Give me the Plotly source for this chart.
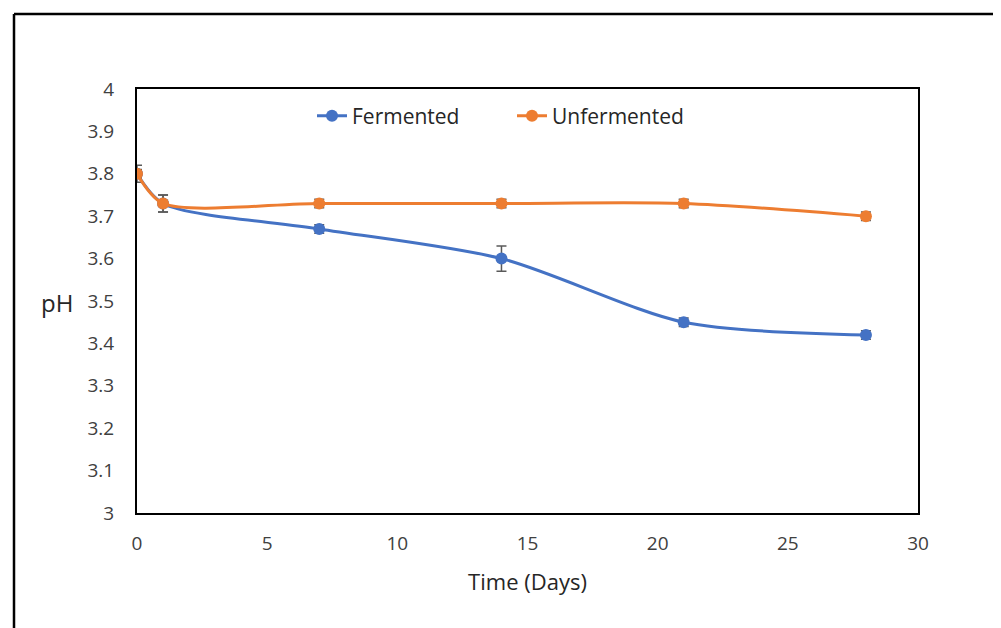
import plotly.graph_objects as go

days = [0, 1, 7, 14, 21, 28]
fermented = [3.80, 3.73, 3.67, 3.60, 3.45, 3.42]
fermented_err = [0.02, 0.02, 0.01, 0.03, 0.01, 0.01]
unfermented = [3.80, 3.73, 3.73, 3.73, 3.73, 3.70]
unfermented_err = [0.01, 0.02, 0.01, 0.01, 0.01, 0.01]

FONT = "Open Sans"
OFF = 8  # page body margin

fig = go.Figure()
fig.add_trace(go.Scatter(
    x=days, y=fermented, name="Fermented", mode="lines+markers",
    line=dict(color="#4472C4", width=3, shape="spline", smoothing=0.8),
    marker=dict(symbol="circle", size=12, color="#4472C4"),
    error_y=dict(type="data", array=fermented_err, color="#595959", thickness=1.5, width=5),
))
fig.add_trace(go.Scatter(
    x=days, y=unfermented, name="Unfermented", mode="lines+markers",
    line=dict(color="#ED7D31", width=3, shape="spline", smoothing=0.8),
    marker=dict(symbol="circle", size=12, color="#ED7D31"),
    error_y=dict(type="data", array=unfermented_err, color="#595959", thickness=1.5, width=5),
))

# screen-coordinate plot box
SX0, SX1, SY0, SY1 = 137, 918, 89, 513
W, H = 1001 - OFF, 628 - OFF
L, T = SX0 - OFF, SY0 - OFF
R = W - (SX1 - OFF)
B = H - (SY1 - OFF)
pw, ph = SX1 - SX0, SY1 - SY0

def px(x):
    return (x - SX0) / pw

def py(y):
    return (SY1 - y) / ph

fig.update_layout(
    width=W, height=H,
    margin=dict(l=L, r=R, t=T, b=B),
    paper_bgcolor="white", plot_bgcolor="white",
    font=dict(family=FONT, size=19, color="#404040"),
    showlegend=True,
    legend=dict(orientation="h", x=px(312), y=py(116), xanchor="left", yanchor="middle",
                entrywidth=155, entrywidthmode="pixels",
                font=dict(family=FONT, size=21, color="#262626"), bgcolor="rgba(0,0,0,0)"),
    xaxis=dict(range=[0, 30], dtick=5, showgrid=False, zeroline=False,
               showline=True, linecolor="black", linewidth=2, mirror=True,
               ticks="", ticklabelstandoff=12, tickfont=dict(family=FONT, size=19, color="#404040"),
               title=dict(text="Time (Days)", font=dict(family=FONT, size=22, color="#262626"), standoff=20)),
    yaxis=dict(range=[3, 4], dtick=0.1, showgrid=False, zeroline=False,
               showline=True, linecolor="black", linewidth=2, mirror=True,
               ticks="", ticklabelstandoff=17, tickfont=dict(family=FONT, size=19, color="#404040")),
    annotations=[dict(text="pH", xref="paper", yref="paper", x=px(57), y=py(302),
                      xanchor="center", yanchor="middle", showarrow=False,
                      font=dict(family=FONT, size=24, color="#262626"))],
    shapes=[
        dict(type="line", xref="paper", yref="paper", x0=px(14), x1=px(14), y0=py(14), y1=py(660),
             line=dict(color="black", width=2.5)),
        dict(type="line", xref="paper", yref="paper", x0=px(14), x1=px(997), y0=py(14), y1=py(14),
             line=dict(color="black", width=2.5)),
        dict(type="line", xref="paper", yref="paper", x0=px(996), x1=px(996), y0=py(14), y1=py(660),
             line=dict(color="#A0A0A0", width=1.5)),
    ],
)

fig.write_html("out.html")
